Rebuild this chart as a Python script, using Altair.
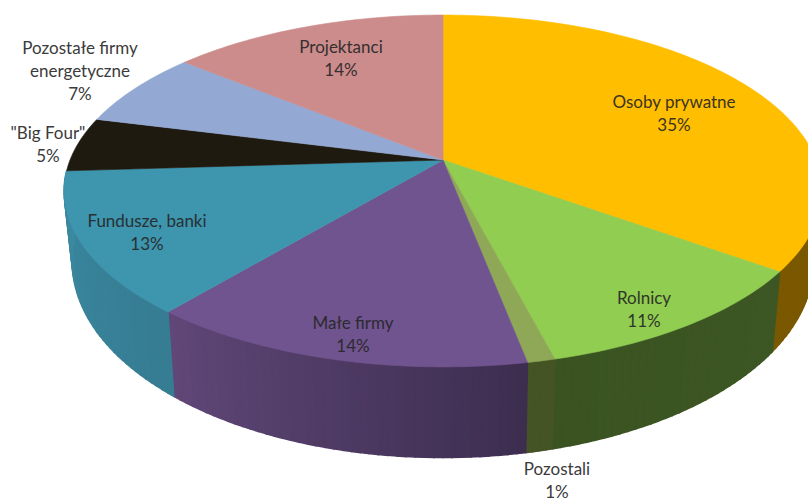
import math
import altair as alt

# Slices clockwise from twelve o'clock
names = ["Osoby prywatne", "Rolnicy", "Pozostali", "Małe firmy", "Fundusze, banki",
         "\"Big Four\"", "Pozostałe firmy\nenergetyczne", "Projektanci"]
shares = [35, 11, 1, 14, 13, 5, 7, 14]

# Face colours, and wall colours at the start and end of each slice's rim
face_colors = ["#FFBE00", "#90CD50", "#8FA857", "#70548F", "#3E95AE", "#1F1A10", "#93A9D3", "#CC8C8C"]
wall_from = ["#755400", "#3D5724", "#455424", "#3D2E50", "#367C92", "#1F1A10", "#93A9D3", "#CC8C8C"]
wall_to = ["#7A5800", "#3A5321", "#455424", "#604778", "#3B8AA1", "#1F1A10", "#93A9D3", "#CC8C8C"]

# Label anchors, in page pixels (centre of the first line)
label_x = [674, 644, 557, 353, 147, 48, 80, 341]
label_y = [103, 299, 470, 324, 222, 134, 49, 48]
LINE_STEP = 23

# Tilted-disc geometry: the perspective factor and the two rim outlines
CX, CY = 443, 160
TILT = -0.176
TOP_A, TOP_B, TOP_DY = 373, 170.5, 0
BOTTOM_A, BOTTOM_B, BOTTOM_DY = 365, 190, 67
WALL_FROM_ANGLE, WALL_TO_ANGLE = 90, 266.4


def rim(angle, a, b, dy):
    """Project a clockwise angle (degrees from the top) onto a rim outline."""
    sx, sy = math.sin(math.radians(angle)), -math.cos(math.radians(angle))
    w = 1 + TILT * sy
    return [a * sx / w, dy + b * sy / w]


def mix(c1, c2, t):
    p = [int(c1[i:i + 2], 16) for i in (1, 3, 5)]
    q = [int(c2[i:i + 2], 16) for i in (1, 3, 5)]
    return "#%02x%02x%02x" % tuple(round(u + (v - u) * t) for u, v in zip(p, q))


def feature(ring, fill):
    return {"type": "Feature", "properties": {"fill": fill},
            "geometry": {"type": "Polygon", "coordinates": [ring]}}


faces, walls = [], []
start = 0.0
for share, face, c1, c2 in zip(shares, face_colors, wall_from, wall_to):
    end = start + share * 3.6
    n = max(4, int(share * 3))
    angles = [start + (end - start) * i / n for i in range(n + 1)]
    ring = [[0, 0]] + [rim(t, TOP_A, TOP_B, TOP_DY) for t in angles] + [[0, 0]]
    faces.append(feature(ring, face))
    # The side wall is built from thin vertical strips to carry its shading
    for i in range(n):
        a0, a1 = angles[i], angles[i + 1]
        if a1 < WALL_FROM_ANGLE or a0 >= WALL_TO_ANGLE:
            continue
        quad = [rim(a0, TOP_A, TOP_B, TOP_DY), rim(a1, TOP_A, TOP_B, TOP_DY),
                rim(a1, BOTTOM_A, BOTTOM_B, BOTTOM_DY), rim(a0, BOTTOM_A, BOTTOM_B, BOTTOM_DY)]
        walls.append(feature(quad + [quad[0]], mix(c1, c2, (i + 0.5) / n)))
    start = end

text_rows = []
for name, share, x, y in zip(names, shares, label_x, label_y):
    for i, line in enumerate(name.split("\n") + [f"{share}%"]):
        text_rows.append({"x": x, "y": y + i * LINE_STEP, "label": line})

projection = alt.Projection(type="identity", scale=1, translate=[CX, CY])


def disc(features, stroke_width):
    return alt.Chart(alt.Data(values=features)).mark_geoshape(strokeWidth=stroke_width).encode(
        fill=alt.Fill("properties.fill:N", scale=None),
        stroke=alt.Stroke("properties.fill:N", scale=None),
    ).project(**projection.to_dict())


labels = alt.Chart(alt.Data(values=text_rows)).mark_text(
    font="Lato", fontSize=17, color="#262626", opacity=0.9, align="center", baseline="middle"
).encode(
    x=alt.X("x:Q", scale=None),
    y=alt.Y("y:Q", scale=None),
    text="label:N",
)

chart = alt.layer(disc(walls, 1.5), disc(faces, 0.6), labels).properties(
    width=808, height=501, padding=0, autosize=alt.AutoSizeParams(type="none"),
    background="white",
).configure_view(stroke=None)

chart.save("out.html", embed_options={"renderer": "svg", "actions": False})
